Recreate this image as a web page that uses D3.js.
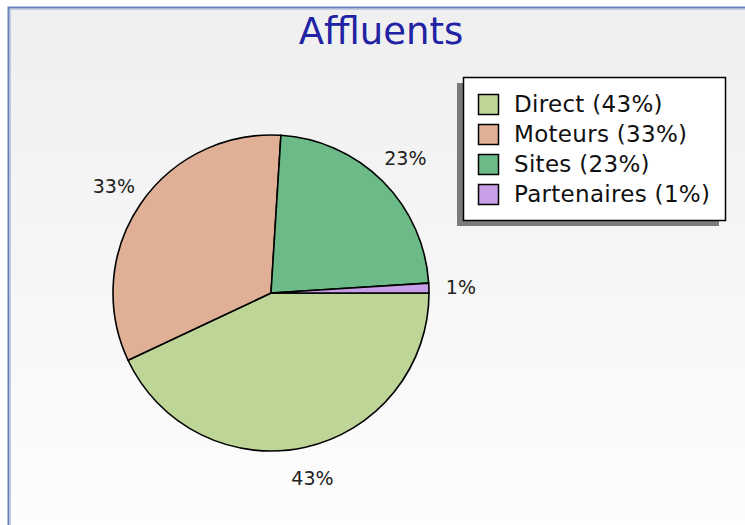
<!DOCTYPE html>
<html>
<head>
<meta charset="utf-8">
<script src="https://cdn.jsdelivr.net/npm/d3@7"></script>
<style>
  html, body { margin: 0; padding: 0; background: #ffffff; }
  svg { display: block; }
  text { font-family: "DejaVu Sans", sans-serif; }
</style>
</head>
<body>
<svg id="chart" width="745" height="525"></svg>
<script>
// Traffic sources, share in percent
const categories = ["Direct", "Moteurs", "Sites", "Partenaires"];
const values = [43, 33, 23, 1];
const colors = ["#bdd697", "#dfb095", "#6cba87", "#c79fe6"];
const title = "Affluents";

const W = 745, H = 525;
const svg = d3.select("#chart");

// Background panel with soft vertical gradient and blue frame
const defs = svg.append("defs");
const grad = defs.append("linearGradient")
  .attr("id", "bg").attr("x1", 0).attr("y1", 0).attr("x2", 0).attr("y2", 1);
grad.append("stop").attr("offset", "0%").attr("stop-color", "#efefef");
grad.append("stop").attr("offset", "100%").attr("stop-color", "#fefefe");

svg.append("rect")
  .attr("x", 9).attr("y", 8).attr("width", W + 20).attr("height", H + 20)
  .attr("fill", "url(#bg)");
svg.append("rect")
  .attr("x", 10.5).attr("y", 9.5).attr("width", W + 20).attr("height", H + 20)
  .attr("fill", "none").attr("stroke", "#c3cde4").attr("stroke-width", 1);
svg.append("rect")
  .attr("x", 8.5).attr("y", 7.5).attr("width", W + 20).attr("height", H + 20)
  .attr("fill", "none").attr("stroke", "#6681ba").attr("stroke-width", 2);

// Title
svg.append("text")
  .attr("x", 381).attr("y", 44)
  .attr("text-anchor", "middle")
  .attr("font-size", 37)
  .attr("fill", "#2222a4")
  .text(title);

// Pie
const cx = 271, cy = 293, r = 158;
const data = categories.map((c, i) => ({ name: c, value: values[i], color: colors[i] }));

const pie = d3.pie()
  .value(d => d.value)
  .sort(null)
  .startAngle(Math.PI / 2)
  .endAngle(Math.PI / 2 + 2 * Math.PI);

const arcs = pie(data);
const arc = d3.arc().innerRadius(0).outerRadius(r);
const labelArc = d3.arc().innerRadius(r + 32).outerRadius(r + 32);

const g = svg.append("g").attr("transform", `translate(${cx},${cy})`);

g.selectAll("path.slice")
  .data(arcs)
  .join("path")
  .attr("class", "slice")
  .attr("d", arc)
  .attr("fill", d => d.data.color)
  .attr("stroke", "#000")
  .attr("stroke-width", 1.6)
  .attr("stroke-linejoin", "round");

g.selectAll("text.pct")
  .data(arcs)
  .join("text")
  .attr("class", "pct")
  .attr("transform", d => `translate(${labelArc.centroid(d)})`)
  .attr("text-anchor", "middle")
  .attr("dy", "0.36em")
  .attr("font-size", 19)
  .attr("fill", "#222")
  .text(d => `${d.data.value}%`);

// Legend with drop shadow
const lx = 463, ly = 77, lw = 262, lh = 143;
svg.append("rect")
  .attr("x", lx - 6).attr("y", ly + 6).attr("width", lw).attr("height", lh)
  .attr("fill", "#7b7b7b");
svg.append("rect")
  .attr("x", lx + 0.5).attr("y", ly + 0.5).attr("width", lw).attr("height", lh)
  .attr("fill", "#ffffff").attr("stroke", "#000").attr("stroke-width", 1.5);

const items = svg.selectAll("g.item")
  .data(data)
  .join("g")
  .attr("class", "item")
  .attr("transform", (d, i) => `translate(${lx + 15},${ly + 17 + i * 30})`);

items.append("rect")
  .attr("x", 0.5).attr("y", 0.5).attr("width", 20).attr("height", 20)
  .attr("fill", d => d.color)
  .attr("stroke", "#000").attr("stroke-width", 1.5);

items.append("text")
  .attr("x", 36).attr("y", 18)
  .attr("font-size", 23)
  .attr("letter-spacing", 0.3)
  .attr("fill", "#111")
  .text(d => `${d.name} (${d.value}%)`);
</script>
</body>
</html>
